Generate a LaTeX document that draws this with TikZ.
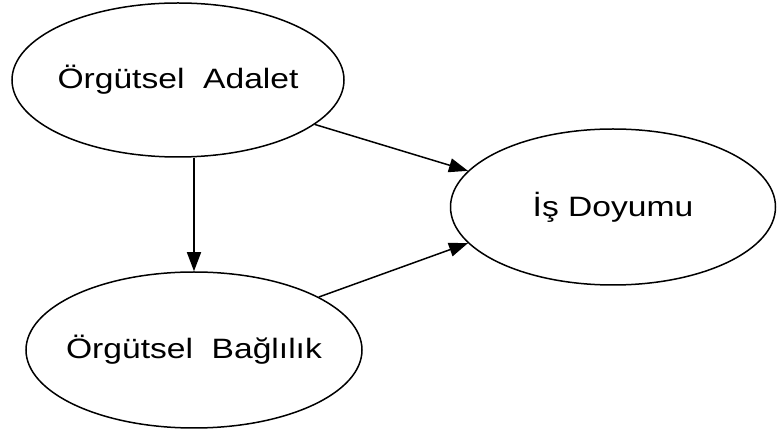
\documentclass[tikz,border=0pt]{standalone}
\usepackage{fontspec}
\setmainfont{Liberation Sans}
\usetikzlibrary{shapes.geometric,arrows.meta}

\tikzset{
  construct/.style={draw=black, line width=1.5pt, ellipse, inner sep=0pt,
    font=\fontsize{28}{34}\selectfont},
  path arrow/.style={draw=black, line width=1.5pt,
    -{Triangle[length=19pt,width=14pt]}}
}
% label text, stretched a little and kept from widening the ellipse
\newcommand{\wide}[1]{\makebox[0pt]{\scalebox{1.2}[1]{#1}}}

\begin{document}
\begin{tikzpicture}[x=1pt,y=-1pt]
  \useasboundingbox (0,0) rectangle (777,435);

  \node[construct, minimum width=332pt, minimum height=154pt] (adalet) at (178,80)
    {\wide{Örgütsel~~Adalet}};
  \node[construct, minimum width=336pt, minimum height=156pt] (baglilik) at (194,350)
    {\wide{Örgütsel~~Bağlılık}};
  \node[construct, minimum width=325pt, minimum height=156pt] (doyum) at (613,207)
    {\wide{İş Doyumu}};

  \draw[path arrow] (adalet.south -| baglilik.north) -- (baglilik.north);
  \draw[path arrow] (adalet.-18) -- (doyum.166);
  \draw[path arrow] (baglilik.23) -- (doyum.194);
\end{tikzpicture}
\end{document}
